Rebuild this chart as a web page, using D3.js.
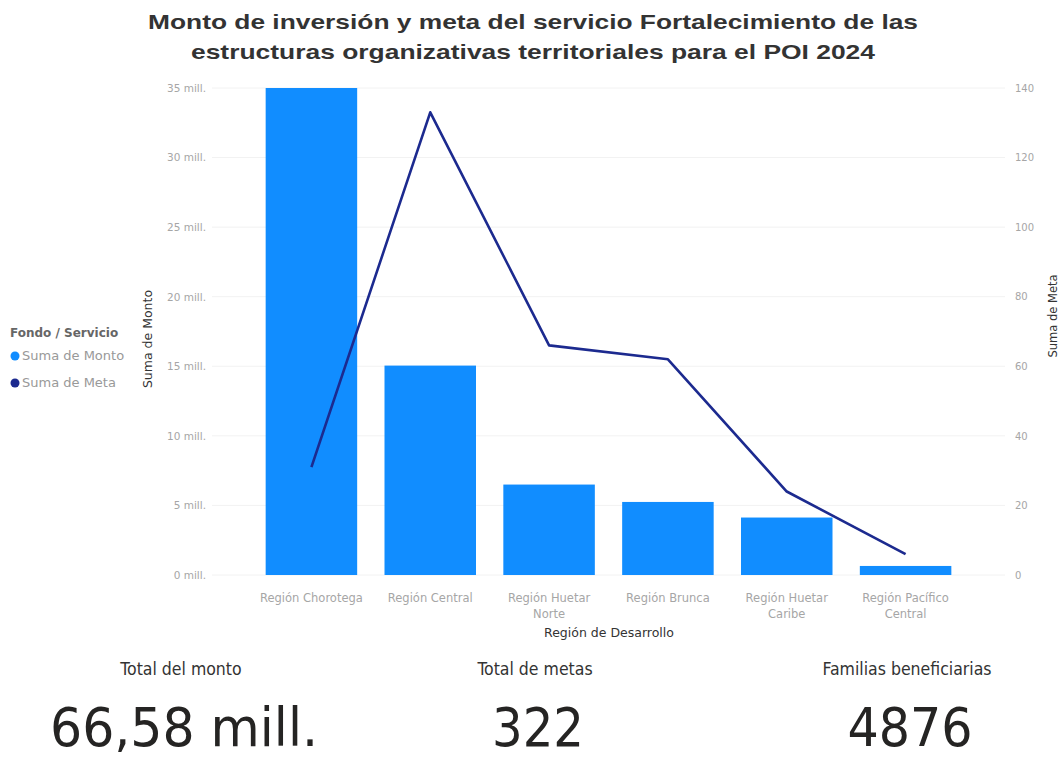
<!DOCTYPE html>
<html><head><meta charset="utf-8">
<script src="https://cdn.jsdelivr.net/npm/d3@7"></script>
<style>body{margin:0;background:#fff;} svg{display:block;}</style>
</head><body>
<svg id="c" width="1062" height="759"></svg>
<script>
const categories = ["Región Chorotega","Región Central","Región Huetar Norte","Región Brunca","Región Huetar Caribe","Región Pacífico Central"];
const categoryLines = [["Región Chorotega"],["Región Central"],["Región Huetar","Norte"],["Región Brunca"],["Región Huetar","Caribe"],["Región Pacífico","Central"]];
const montoValues = [35.0, 15.05, 6.5, 5.25, 4.13, 0.65];
const metaValues = [31, 133, 66, 62, 24, 6];
const leftTicks = [0,5,10,15,20,25,30,35];
const rightTicks = [0,20,40,60,80,100,120,140];
const cardTitles = ["Total del monto","Total de metas","Familias beneficiarias"];
const cardValues = ["66,58 mill.","322","4876"];

const svg = d3.select("#c");
const cond = "'DejaVu Sans Condensed','Liberation Sans Narrow',sans-serif";
const sans = "'DejaVu Sans',sans-serif";
const plotTop=88, plotBottom=575;
const x = d3.scaleBand().domain(categories).range([252,965]).paddingInner(0.23).paddingOuter(0.115);
const yL = d3.scaleLinear().domain([0,35]).range([plotBottom,plotTop]);
const yR = d3.scaleLinear().domain([0,140]).range([plotBottom,plotTop]);

// title
const titleLines = [["Monto de inversión y meta del servicio Fortalecimiento de las",29,770],
                    ["estructuras organizativas territoriales para el POI 2024",59,684]];
titleLines.forEach(d=>{
  svg.append("text").attr("x",533).attr("y",d[1]).attr("text-anchor","middle")
    .attr("font-family","'Liberation Sans',Arial,sans-serif").attr("font-weight","bold").attr("font-size",21).attr("fill","#333")
    .attr("textLength",d[2]).attr("lengthAdjust","spacingAndGlyphs").text(d[0]);
});

// gridlines
svg.append("g").selectAll("line").data(leftTicks).join("line")
  .attr("x1",212).attr("x2",1005).attr("y1",d=>yL(d)).attr("y2",d=>yL(d))
  .attr("stroke","#f2f2f2").attr("stroke-width",1);

// left axis
const gl = svg.append("g").attr("transform","translate(206,0)")
  .call(d3.axisLeft(yL).tickValues(leftTicks).tickSize(0).tickPadding(0).tickFormat(d=>d+" mill."));
gl.select(".domain").remove();
gl.selectAll("text").attr("font-family",sans).attr("font-size",10.5).attr("fill","#a6a6a6");

// right axis
const gr = svg.append("g").attr("transform","translate(1015,0)")
  .call(d3.axisRight(yR).tickValues(rightTicks).tickSize(0).tickPadding(0));
gr.select(".domain").remove();
gr.selectAll("text").attr("font-family",sans).attr("font-size",10).attr("fill","#a6a6a6");

// axis titles
svg.append("text").attr("transform","translate(152,339) rotate(-90)").attr("text-anchor","middle")
  .attr("font-family",sans).attr("font-size",12.5).attr("fill","#333").text("Suma de Monto");
svg.append("text").attr("transform","translate(1057,316) rotate(-90)").attr("text-anchor","middle")
  .attr("font-family",sans).attr("font-size",11.5).attr("fill","#333").text("Suma de Meta");

// bars
svg.append("g").selectAll("rect").data(montoValues).join("rect")
  .attr("x",(d,i)=>x(categories[i])).attr("width",x.bandwidth())
  .attr("y",d=>yL(d)).attr("height",d=>plotBottom-yL(d)).attr("fill","#118dff");

// line
const line = d3.line().x((d,i)=>x(categories[i])+x.bandwidth()/2).y(d=>yR(d));
svg.append("path").datum(metaValues).attr("d",line).attr("fill","none")
  .attr("stroke","#1c2a8f").attr("stroke-width",2.6).attr("stroke-linejoin","round");

// x labels
const xl = svg.append("g");
categories.forEach((c,i)=>{
  const t = xl.append("text").attr("x",x(c)+x.bandwidth()/2).attr("y",602).attr("text-anchor","middle")
    .attr("font-family",sans).attr("font-size",11.5).attr("fill","#a6a6a6");
  categoryLines[i].forEach((l,j)=>t.append("tspan").attr("x",x(c)+x.bandwidth()/2).attr("dy",j?16:0).text(l));
});
svg.append("text").attr("x",609).attr("y",637).attr("text-anchor","middle")
  .attr("font-family",sans).attr("font-size",12.5).attr("fill","#333").text("Región de Desarrollo");

// legend
svg.append("text").attr("x",10).attr("y",337).attr("font-family",sans).attr("font-weight","bold")
  .attr("font-size",12).attr("fill","#666").text("Fondo / Servicio");
const legItems = [["Suma de Monto","#118dff"],["Suma de Meta","#1c2a8f"]];
legItems.forEach((d,i)=>{
  svg.append("circle").attr("cx",15).attr("cy",356+i*27).attr("r",4.5).attr("fill",d[1]);
  svg.append("text").attr("x",22).attr("y",360+i*27).attr("font-family",sans)
    .attr("font-size",13).attr("fill","#999").text(d[0]);
});

// cards
const cardX = [181,535,907];
const cardWidths = [268,92,125];
cardTitles.forEach((t,i)=>{
  svg.append("text").attr("x",cardX[i]).attr("y",675).attr("text-anchor","middle")
    .attr("font-family",cond).attr("font-size",17.5).attr("fill","#333").text(t);
  svg.append("text").attr("x",cardX[i]+3).attr("y",746).attr("text-anchor","middle")
    .attr("font-family",cond).attr("font-size",53).attr("fill","#252423")
    .attr("textLength",cardWidths[i]).attr("lengthAdjust","spacingAndGlyphs").text(cardValues[i]);
});
</script>
</body></html>
